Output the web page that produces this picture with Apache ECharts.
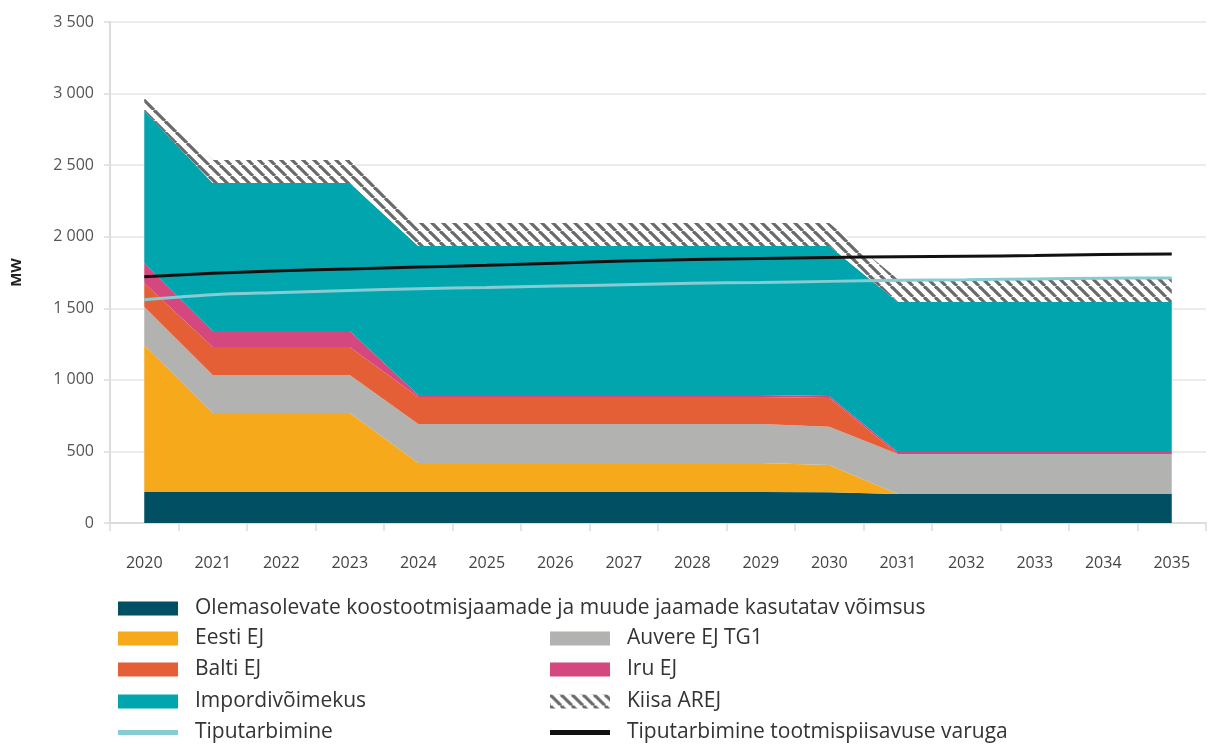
<!DOCTYPE html>
<html>
<head>
<meta charset="utf-8">
<script src="https://cdn.jsdelivr.net/npm/echarts@6/dist/echarts.min.js"></script>
<style>
  html, body { margin: 0; padding: 0; background: #fff; }
  #chart { width: 1208px; height: 744px; }
</style>
</head>
<body>
<div id="chart"></div>
<script>
// aastad
var years = ['2020','2021','2022','2023','2024','2025','2026','2027','2028','2029','2030','2031','2032','2033','2034','2035'];

// võimsused, MW
var olemasolevad = [217,217,217,217,217,217,217,217,217,217,215,203,203,203,203,203];
var eestiEJ      = [1027,552,552,552,202,202,202,202,202,202,190,0,0,0,0,0];
var auvereEJ     = [266,265,265,265,273,273,273,273,273,273,268,279,279,279,279,279];
var baltiEJ      = [167,196,196,196,189,189,189,189,189,189,200,0,0,0,0,0];
var iruEJ        = [140,112,112,112,14,14,14,14,14,14,14,14,14,14,14,14];
var impordivoimekus = [1062,1034,1034,1034,1041,1041,1041,1041,1041,1041,1049,1048,1048,1048,1048,1048];
var kiisaAREJ    = [100,160,160,160,160,160,160,160,160,160,160,160,160,160,160,160];

var tiputarbimine       = [1560,1595,1610,1625,1637,1645,1655,1665,1675,1680,1688,1696,1700,1705,1710,1712];
var tiputarbimineVaruga = [1720,1745,1762,1775,1788,1800,1815,1830,1840,1848,1855,1860,1864,1868,1876,1880];

var yTicks = [0, 500, 1000, 1500, 2000, 2500, 3000, 3500];

var NAMES = {
    olem: 'Olemasolevate koostootmisjaamade ja muude jaamade kasutatav võimsus',
    eesti: 'Eesti EJ',
    auvere: 'Auvere EJ TG1',
    balti: 'Balti EJ',
    iru: 'Iru EJ',
    imp: 'Impordivõimekus',
    kiisa: 'Kiisa AREJ',
    tip: 'Tiputarbimine',
    tipV: 'Tiputarbimine tootmispiisavuse varuga'
};

// viirutus Kiisa jaoks
function makeHatch() {
    var s = 11;
    var c = document.createElement('canvas');
    c.width = s; c.height = s;
    var ctx = c.getContext('2d');
    ctx.fillStyle = '#ffffff';
    ctx.fillRect(0, 0, s, s);
    ctx.strokeStyle = '#6a6a6a';
    ctx.lineWidth = 3.2;
    [-s, 0, s].forEach(function (k) {
        ctx.beginPath();
        ctx.moveTo(k, 0);
        ctx.lineTo(k + s, s);
        ctx.stroke();
    });
    return { image: c, repeat: 'repeat' };
}
var hatch = makeHatch();

function areaSeries(name, data, color) {
    return {
        name: name,
        type: 'line',
        stack: 'total',
        data: data,
        symbol: 'none',
        color: color,
        lineStyle: { width: 0 },
        areaStyle: { color: color, opacity: 1 },
        emphasis: { disabled: true },
        z: 2
    };
}

function lineSeries(name, data, color, width) {
    return {
        name: name,
        type: 'line',
        data: data,
        symbol: 'none',
        smooth: 0.3,
        color: color,
        lineStyle: { color: color, width: width },
        emphasis: { disabled: true },
        z: 5
    };
}

var fontFam = '"Open Sans", "Noto Sans", sans-serif';

// üks legend iga kirje jaoks, et paigutus oleks täpne
function legendItem(name, left, top, isLine) {
    return {
        left: left,
        top: top,
        padding: 0,
        itemWidth: 60,
        itemHeight: isLine ? 5 : 14,
        selectedMode: false,
        icon: 'rect',
        data: [name],
        textStyle: { fontFamily: fontFam, fontSize: 21, color: '#333', padding: [0, 0, 0, 12] }
    };
}

var chart = echarts.init(document.getElementById('chart'), null, { renderer: 'canvas' });

var option = {
    animation: false,
    backgroundColor: '#ffffff',
    textStyle: { fontFamily: fontFam },
    grid: { left: 110, top: 22, right: 2, bottom: 221, containLabel: false },
    legend: [
        legendItem(NAMES.olem, 118, 598, false),
        legendItem(NAMES.eesti, 118, 628, false),
        legendItem(NAMES.balti, 118, 659, false),
        legendItem(NAMES.imp, 118, 691, false),
        legendItem(NAMES.tip, 118, 722, true),
        legendItem(NAMES.auvere, 550, 628, false),
        legendItem(NAMES.iru, 550, 659, false),
        legendItem(NAMES.kiisa, 550, 691, false),
        legendItem(NAMES.tipV, 550, 722, true)
    ],
    xAxis: {
        type: 'category',
        data: years,
        boundaryGap: true,
        axisLine: { show: true, lineStyle: { color: '#dcdcdc', width: 2 } },
        axisTick: { show: true, length: 8, lineStyle: { color: '#dcdcdc', width: 1.5 } },
        axisLabel: { color: '#444', fontSize: 16, margin: 32, fontFamily: fontFam },
        splitLine: { show: false }
    },
    yAxis: {
        type: 'value',
        min: yTicks[0],
        max: yTicks[yTicks.length - 1],
        interval: 500,
        name: 'MW',
        nameLocation: 'middle',
        nameGap: 86,
        nameRotate: 90,
        nameTextStyle: { fontWeight: 'bold', fontSize: 15, color: '#222', fontFamily: fontFam },
        axisLine: { show: true, lineStyle: { color: '#dcdcdc', width: 2 } },
        axisTick: { show: true, length: 6, lineStyle: { color: '#dcdcdc', width: 1.5 } },
        axisLabel: {
            color: '#555', fontSize: 16, margin: 16, fontFamily: fontFam,
            formatter: function (v) { return String(v).replace(/\B(?=(\d{3})+(?!\d))/g, ' '); }
        },
        splitLine: { show: true, lineStyle: { color: '#e6e6e6', width: 1.5 } }
    },
    series: [
        areaSeries(NAMES.olem, olemasolevad, '#004f62'),
        areaSeries(NAMES.eesti, eestiEJ, '#f6a91b'),
        areaSeries(NAMES.auvere, auvereEJ, '#b2b2b1'),
        areaSeries(NAMES.balti, baltiEJ, '#e45f36'),
        areaSeries(NAMES.iru, iruEJ, '#d4477f'),
        areaSeries(NAMES.imp, impordivoimekus, '#00a5ad'),
        areaSeries(NAMES.kiisa, kiisaAREJ, hatch),
        lineSeries(NAMES.tip, tiputarbimine, '#86ccd2', 3),
        lineSeries(NAMES.tipV, tiputarbimineVaruga, '#111111', 3)
    ]
};

chart.setOption(option);
</script>
</body>
</html>
